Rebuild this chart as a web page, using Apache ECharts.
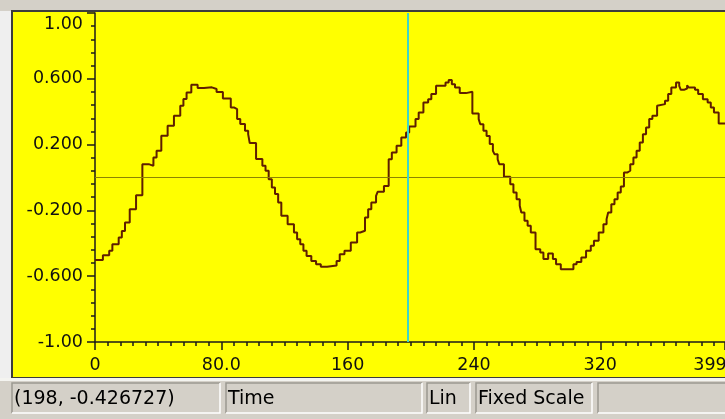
<!DOCTYPE html>
<html>
<head>
<meta charset="utf-8">
<script src="https://cdn.jsdelivr.net/npm/echarts@6/dist/echarts.min.js"></script>
<style>
  html, body { margin: 0; padding: 0; background: #d4d0c8; }
  #chart { width: 725px; height: 419px; }
</style>
</head>
<body>
<div id="chart"></div>
<script>
// Sample index where the held level starts (sample-and-hold waveform)
const stepIndex = [
  0, 5, 9, 11, 15, 17, 19, 22, 26, 30, 34, 37, 39, 42, 46, 50, 54, 56, 58, 61,
  65, 69, 74, 77, 81, 86, 88, 90, 92, 95, 97, 98, 102, 106, 108, 110, 112, 114, 116, 118,
  122, 126, 128, 130, 132, 134, 137, 140, 143, 147, 153, 155, 158, 162, 166, 168, 171, 173, 175, 178,
  179, 183, 186, 188, 191, 194, 197, 199, 203, 205, 208, 211, 213, 216, 222, 224, 226, 228, 231, 235,
  239, 243, 244, 246, 248, 250, 252, 253, 255, 256, 259, 263, 265, 267, 269, 270, 272, 274, 276, 279,
  282, 284, 287, 290, 292, 295, 303, 305, 308, 311, 314, 316, 319, 322, 324, 325, 327, 329, 331, 333,
  335, 337, 339, 341, 343, 345, 347, 349, 351, 353, 356, 357, 361, 363, 365, 368, 370, 371, 373, 375,
  376, 380, 382, 385, 388, 390, 392, 395, 399
];
// Held level for each step
const stepLevel = [
  -0.501, -0.473, -0.446, -0.406, -0.365, -0.325, -0.274, -0.193, -0.108, 0.081, 0.071, 0.122, 0.162, 0.254, 0.314, 0.375, 0.436, 0.477, 0.517, 0.564,
  0.544, 0.548, 0.538, 0.519, 0.481, 0.426, 0.416, 0.355, 0.325, 0.284, 0.264, 0.209, 0.112, 0.071, 0.041, -0.010, -0.061, -0.101, -0.152, -0.233,
  -0.284, -0.334, -0.375, -0.406, -0.446, -0.477, -0.507, -0.527, -0.543, -0.535, -0.507, -0.466, -0.446, -0.395, -0.334, -0.324, -0.243, -0.193, -0.152, -0.111,
  -0.087, -0.051, 0.111, 0.152, 0.193, 0.243, 0.274, 0.310, 0.355, 0.395, 0.456, 0.476, 0.507, 0.557, 0.578, 0.592, 0.567, 0.547, 0.513, 0.521,
  0.389, 0.355, 0.324, 0.284, 0.253, 0.203, 0.162, 0.142, 0.111, 0.081, 0.004, -0.041, -0.091, -0.132, -0.172, -0.213, -0.263, -0.294, -0.334, -0.436,
  -0.456, -0.496, -0.462, -0.496, -0.527, -0.557, -0.527, -0.513, -0.486, -0.446, -0.415, -0.385, -0.334, -0.284, -0.253, -0.213, -0.162, -0.132, -0.091, -0.055,
  0.030, 0.041, 0.081, 0.122, 0.162, 0.213, 0.263, 0.304, 0.355, 0.375, 0.436, 0.446, 0.466, 0.507, 0.547, 0.578, 0.557, 0.533, 0.541, 0.561,
  0.547, 0.533, 0.507, 0.476, 0.456, 0.426, 0.395, 0.328, 0.328
];

// Axis ticks and their printed labels
const xTickValues = [0, 80, 160, 240, 320, 399];
const xTickLabels = ['0', '80.0', '160', '240', '320', '399'];
const yTickValues = [-1, -0.6, -0.2, 0.2, 0.6, 1];
const yTickLabels = ['-1.00', '-0.600', '-0.200', '0.200', '0.600', '1.00'];

// Cursor position and status bar fields
const cursorX = 198;
const cursorY = -0.426727;
const statusFields = ['(' + cursorX + ', ' + cursorY + ')', 'Time', 'Lin', 'Fixed Scale', ''];

const seriesData = stepIndex.map((x, i) => [x, stepLevel[i]]);

function lookupLabel(values, labels, v) {
  for (let i = 0; i < values.length; i++) {
    if (Math.abs(values[i] - v) < 1e-6) return labels[i];
  }
  return '';
}

const FONT = '"DejaVu Sans", Tahoma, Verdana, sans-serif';
const chart = echarts.init(document.getElementById('chart'), null, { renderer: 'canvas' });

// Status bar panel boxes: [x, width]
const panels = [[12, 208], [226, 196], [427, 43], [476, 116], [598, 140]];
const panelTop = 383, panelH = 30;

const graphics = [
  // plotting panel frame and yellow fill
  { type: 'rect', z: -10, shape: { x: 0, y: 11, width: 12, height: 370 }, style: { fill: '#efefef' } },
  { type: 'rect', z: -10, shape: { x: 11, y: 10, width: 714, height: 368 }, style: { fill: '#3c3c3c' } },
  { type: 'rect', z: -9, shape: { x: 13, y: 12, width: 712, height: 365 }, style: { fill: '#ffff00' } },
  { type: 'rect', z: -9, shape: { x: 0, y: 378, width: 725, height: 3 }, style: { fill: '#f4f4f0' } }
];
panels.forEach((p, i) => {
  const x = p[0], w = p[1];
  graphics.push({
    type: 'polyline', z: 5,
    shape: { points: [[x, panelTop + panelH], [x, panelTop], [x + w, panelTop]] },
    style: { stroke: '#9a9890', lineWidth: 1.5, fill: null }
  });
  graphics.push({
    type: 'polyline', z: 5,
    shape: { points: [[x, panelTop + panelH], [x + w, panelTop + panelH], [x + w, panelTop]] },
    style: { stroke: '#ffffff', lineWidth: 1.5, fill: null }
  });
  graphics.push({
    type: 'text', z: 6, x: x + 2, y: panelTop + panelH / 2 + 1,
    style: { text: statusFields[i], fill: '#000000', font: '19px ' + FONT, verticalAlign: 'middle', align: 'left' }
  });
});

const option = {
  backgroundColor: '#d4d0c8',
  animation: false,
  graphic: graphics,
  grid: { left: 95, top: 13, width: 630, height: 329, containLabel: false, outerBoundsMode: 'none' },
  xAxis: {
    type: 'value', min: 0, max: 399, interval: 80,
    axisLine: { show: true, onZero: false, lineStyle: { color: '#1a1a1a', width: 1.5 } },
    axisTick: { show: true, inside: false, length: 8, lineStyle: { color: '#1a1a1a', width: 1.5 } },
    minorTick: { show: true, splitNumber: 10, length: 4, lineStyle: { color: '#1a1a1a', width: 1.5 } },
    splitLine: { show: false },
    axisLabel: {
      margin: 14, color: '#111', fontFamily: FONT, fontSize: 17.5,
      showMinLabel: true, showMaxLabel: true,
      formatter: v => {
        const t = lookupLabel(xTickValues, xTickLabels, v);
        return v === 399 ? '{last|' + t + '}' : t;
      },
      rich: { last: { fontFamily: FONT, fontSize: 17.5, color: '#111', padding: [0, 30, 0, 0] } }
    }
  },
  yAxis: {
    type: 'value', min: -1, max: 1, interval: 0.4,
    axisLine: { show: true, onZero: false, lineStyle: { color: '#1a1a1a', width: 1.5 } },
    axisTick: { show: true, inside: false, length: 8, lineStyle: { color: '#1a1a1a', width: 1.5 } },
    minorTick: { show: true, splitNumber: 5, length: 4, lineStyle: { color: '#1a1a1a', width: 1.5 } },
    splitLine: { show: false },
    axisLabel: {
      margin: 12, color: '#111', fontFamily: FONT, fontSize: 17.5,
      showMinLabel: true, showMaxLabel: true,
      formatter: v => {
        const t = lookupLabel(yTickValues, yTickLabels, v);
        return v > 0.99 ? '{top|' + t + '}' : t;
      },
      rich: { top: { fontFamily: FONT, fontSize: 17.5, color: '#111', padding: [22, 0, 0, 0] } }
    }
  },
  series: [
    {
      // zero reference and cursor lines
      type: 'line', data: [], z: 1, silent: true,
      markLine: {
        silent: true, symbol: ['none', 'none'], animation: false,
        label: { show: false },
        data: [
          { yAxis: 0, lineStyle: { color: '#8c8400', width: 1.2, type: 'solid' } },
          { xAxis: cursorX, lineStyle: { color: '#3fd6c6', width: 2, type: 'solid' } }
        ]
      }
    },
    {
      type: 'line', step: 'end', z: 3,
      data: seriesData,
      showSymbol: false, symbol: 'none',
      lineStyle: { color: '#5e1f00', width: 2 },
      clip: true
    }
  ]
};

chart.setOption(option);
</script>
</body>
</html>
